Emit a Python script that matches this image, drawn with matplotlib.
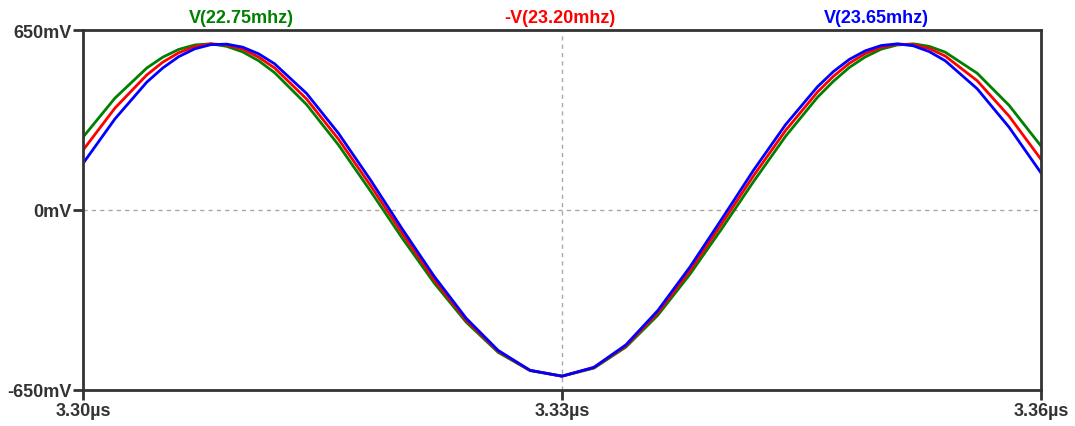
import matplotlib
matplotlib.use("Agg")
import matplotlib.pyplot as plt

# time axis, in µs (2 ns steps, 1 ns around the two peaks)
t_us = [3.300, 3.302, 3.304, 3.305, 3.306, 3.307, 3.308, 3.309, 3.310, 3.311,
        3.312, 3.314, 3.316, 3.318, 3.320, 3.322, 3.324, 3.326, 3.328, 3.330,
        3.332, 3.334, 3.336, 3.338, 3.340, 3.342, 3.344, 3.346, 3.347, 3.348,
        3.349, 3.350, 3.351, 3.352, 3.353, 3.354, 3.356, 3.358, 3.360]

# traces in mV
v_2275 = [263, 404, 513, 552, 580, 596, 600, 591, 571, 539,
          496, 381, 235, 69, -102, -264, -405, -514, -580, -600,
          -571, -495, -380, -233, -68, 103, 266, 407, 465, 515,
          553, 581, 596, 600, 591, 570, 494, 378, 231]
v_2320 = [216, 368, 488, 534, 568, 590, 600, 596, 581, 552,
          513, 401, 256, 89, -85, -252, -398, -510, -579, -600,
          -569, -491, -371, -220, -50, 124, 287, 426, 483, 530,
          565, 588, 599, 597, 583, 556, 467, 339, 183]
v_2365 = [168, 329, 462, 513, 554, 582, 597, 599, 588, 564,
          528, 421, 277, 109, -69, -240, -391, -507, -579, -600,
          -568, -487, -363, -207, -33, 144, 308, 445, 500, 544,
          575, 594, 600, 593, 572, 539, 438, 299, 134]

trace_names = ["V(22.75mhz)", "-V(23.20mhz)", "V(23.65mhz)"]
trace_colors = ["#008000", "#ff0000", "#0000ff"]
title_x = [3.30992, 3.32985, 3.34972]

x_ticks = [3.30, 3.33, 3.36]
x_labels = ["3.30µs", "3.33µs", "3.36µs"]
y_ticks = [-650, 0, 650]
y_labels = ["-650mV", "0mV", "650mV"]

plt.rcParams['font.family'] = ['Liberation Sans', 'DejaVu Sans']

fig = plt.figure(figsize=(10.75, 4.27), dpi=100)
ax = fig.add_axes([83/1075, 36/427, 958/1075, 360/427])

for v, c in zip([v_2275, v_2320, v_2365], trace_colors):
    ax.plot(t_us, v, color=c, lw=2.0)

ax.set_xlim(3.30, 3.36)
ax.set_ylim(-650, 650)

# only the middle grid lines are drawn
ax.axvline(3.33, color="#a8a8a8", lw=1, ls=(0, (3, 3)), zorder=0)
ax.axhline(0, color="#a8a8a8", lw=1, ls=(0, (3, 3)), zorder=0)

ax.set_xticks(x_ticks)
ax.set_xticklabels(x_labels)
ax.set_yticks(y_ticks)
ax.set_yticklabels(y_labels)
ax.tick_params(direction="out", length=7, width=2, color="#333333",
               labelcolor="#333333", labelsize=13, pad=1.5)
for lab in ax.get_xticklabels() + ax.get_yticklabels():
    lab.set_fontweight("bold")

for sp in ax.spines.values():
    sp.set_color("#333333")
    sp.set_linewidth(2)

for name, c, xx in zip(trace_names, trace_colors, title_x):
    ax.text(xx, 1.012, name, transform=ax.get_xaxis_transform(), ha="center",
            va="bottom", color=c, fontsize=13, fontweight="bold")

fig.savefig("out.png", dpi=100, facecolor="white")
